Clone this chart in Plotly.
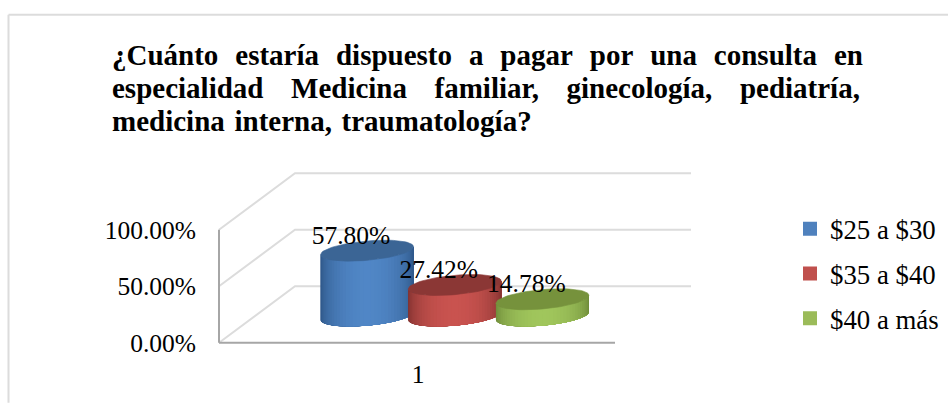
import math
import plotly.graph_objects as go

# ---- data ----
categories = ["1"]
series_names = ["$25 a $30", "$35 a $40", "$40 a más"]
series_values = [57.80, 27.42, 14.78]
value_labels = ["57.80%", "27.42%", "14.78%"]
y_ticks = [0, 50, 100]
y_tick_labels = ["0.00%", "50.00%", "100.00%"]
title_lines = [
    "¿Cuánto estaría dispuesto a pagar por una consulta en",
    "especialidad Medicina familiar, ginecología, pediatría,",
    "medicina interna, traumatología?",
]

# ---- styling ----
W, H = 948, 403
FONT = "Liberation Serif"
EDGE = ["#2c5484", "#7e302e", "#6c8838"]
MID = ["#5086c6", "#c9534f", "#a0c65c"]
TOP = ["#3b6595", "#8b3735", "#76923c"]
LEGEND = ["#4f81bd", "#c0504d", "#9bbb59"]
GRID = "#dcdcdc"
AXIS = "#a6a6a6"
TITLE_GAPS = ["\u00a0\u00a0\u200a", "\u00a0\u00a0\u00a0\u2009", "\u00a0\u200a"]
TITLE_Y = [55, 88, 121]

PX = 1.13            # pixels per percentage point
X0, X1 = 215, 700    # horizontal frame of the plot, in pixels of the page
Y_MIN, Y_MAX = -2, 152
LEFT, DX, DZ = 219, 76, 50   # wall corner, depth offset across / up
WALL_R = 691
FLOOR_R = 615
BASE = 23.7          # cylinder base centre above the front floor edge
CX0, CX_STEP = 367, 87.7
A = 46.5             # ellipse half width
K, M = 4 / PX, 9.7 / PX      # ellipse shear and half-height, in y units
N = 40

plot_bottom = 343 + (0 - Y_MIN) * PX
plot_top = 343 - Y_MAX * PX


def hex2rgb(c):
    return [int(c[i:i + 2], 16) for i in (1, 3, 5)]


def mix(a, b, f):
    ca, cb = hex2rgb(a), hex2rgb(b)
    return "rgb(%d,%d,%d)" % tuple(round(x + (y - x) * f) for x, y in zip(ca, cb))


def ex(cx, t):
    return cx + A * math.cos(t)


def ey(y, t):
    return y + K * math.cos(t) + M * math.sin(t)


fig = go.Figure()


def line(xs, ys, color, width):
    fig.add_trace(go.Scatter(x=xs, y=ys, mode="lines", line=dict(color=color, width=width),
                             showlegend=False, hoverinfo="skip", cliponaxis=False))


# walls and gridlines
for t in y_ticks:
    line([LEFT, LEFT + DX, WALL_R], [t, t + DZ, t + DZ], GRID, 2)
line([LEFT, LEFT], [0, y_ticks[-1]], AXIS, 2)
line([LEFT, FLOOR_R], [0, 0], AXIS, 2)

# cylinders: each step paints the remaining part of the front, so no seams show
for i, v in enumerate(series_values):
    cx = CX0 + CX_STEP * i
    bottom, top = BASE, BASE + v
    for s in range(N):
        t0 = math.pi + math.pi * s / N
        f = abs(math.sin(t0 + math.pi / (2 * N))) ** 1.2
        col = mix(EDGE[i], MID[i], f)
        arc = [t0 + (2 * math.pi - t0) * k / 40 for k in range(41)]
        xs = [ex(cx, t) for t in arc] + [ex(cx, t) for t in reversed(arc)]
        ys = [ey(bottom, t) for t in arc] + [ey(top, t) for t in reversed(arc)]
        fig.add_trace(go.Scatter(x=xs + xs[:1], y=ys + ys[:1], mode="lines", fill="toself",
                                 fillcolor=col, line=dict(color=col, width=0),
                                 showlegend=False, hoverinfo="skip"))
    ts = [2 * math.pi * s / 72 for s in range(73)]
    fig.add_trace(go.Scatter(x=[ex(cx, t) for t in ts], y=[ey(top, t) for t in ts],
                             mode="lines", fill="toself", fillcolor=TOP[i],
                             line=dict(color=TOP[i], width=0.6), showlegend=False,
                             hoverinfo="skip"))

# data labels
fig.add_trace(go.Scatter(
    x=[CX0 + CX_STEP * i - 16 for i in range(len(series_values))],
    y=[BASE + v + 11.8 for v in series_values],
    mode="text", text=value_labels, textposition="middle center",
    textfont=dict(family=FONT, size=25.5, color="#000"), showlegend=False,
    hoverinfo="skip", cliponaxis=False))

# legend entries
for i, name in enumerate(series_names):
    fig.add_trace(go.Scatter(x=[None], y=[None], mode="markers", name=name, legendgroup=name,
                             marker=dict(symbol="square", size=14, color=LEGEND[i])))


def fx(px):
    return (px - X0) / (X1 - X0)


def fy(py):
    return (plot_bottom - py) / (plot_bottom - plot_top)


frame = dict(type="line", xref="paper", yref="paper", line=dict(color=GRID, width=2))
fig.update_layout(
    width=W, height=H,
    margin=dict(l=X0, r=W - X1, t=plot_top, b=H - plot_bottom, autoexpand=False),
    paper_bgcolor="white", plot_bgcolor="white",
    font=dict(family=FONT, color="#000"),
    annotations=[
        dict(text="<b>" + line_text.replace(" ", gap) + "</b>", xref="paper", yref="paper",
             x=fx(110), y=fy(py), xanchor="left", yanchor="middle", showarrow=False,
             align="left", font=dict(family=FONT, size=29, color="#000"))
        for line_text, gap, py in zip(title_lines, TITLE_GAPS, TITLE_Y)
    ],
    xaxis=dict(range=[X0, X1], showgrid=False, zeroline=False, showline=False, ticks="",
               tickmode="array", tickvals=[418], ticktext=categories,
               tickfont=dict(family=FONT, size=25.5), ticklabelstandoff=11),
    yaxis=dict(range=[Y_MIN, Y_MAX], showgrid=False, zeroline=False, showline=False, ticks="",
               tickmode="array", tickvals=y_ticks, ticktext=y_tick_labels,
               tickfont=dict(family=FONT, size=25.5), ticklabelstandoff=18),
    legend=dict(x=fx(790), xanchor="left", y=fy(205), yanchor="top",
                font=dict(family=FONT, size=26.8), tracegroupgap=7, bgcolor="rgba(0,0,0,0)",
                itemclick=False, itemdoubleclick=False),
    shapes=[
        dict(frame, x0=fx(8.5), x1=fx(8.5), y0=fy(15), y1=fy(403)),
        dict(frame, x0=fx(8.5), x1=fx(948), y0=fy(15), y1=fy(15)),
    ],
)
fig.write_html("out.html", post_script="document.body.style.margin='0';",
               config=dict(displayModeBar=False))
